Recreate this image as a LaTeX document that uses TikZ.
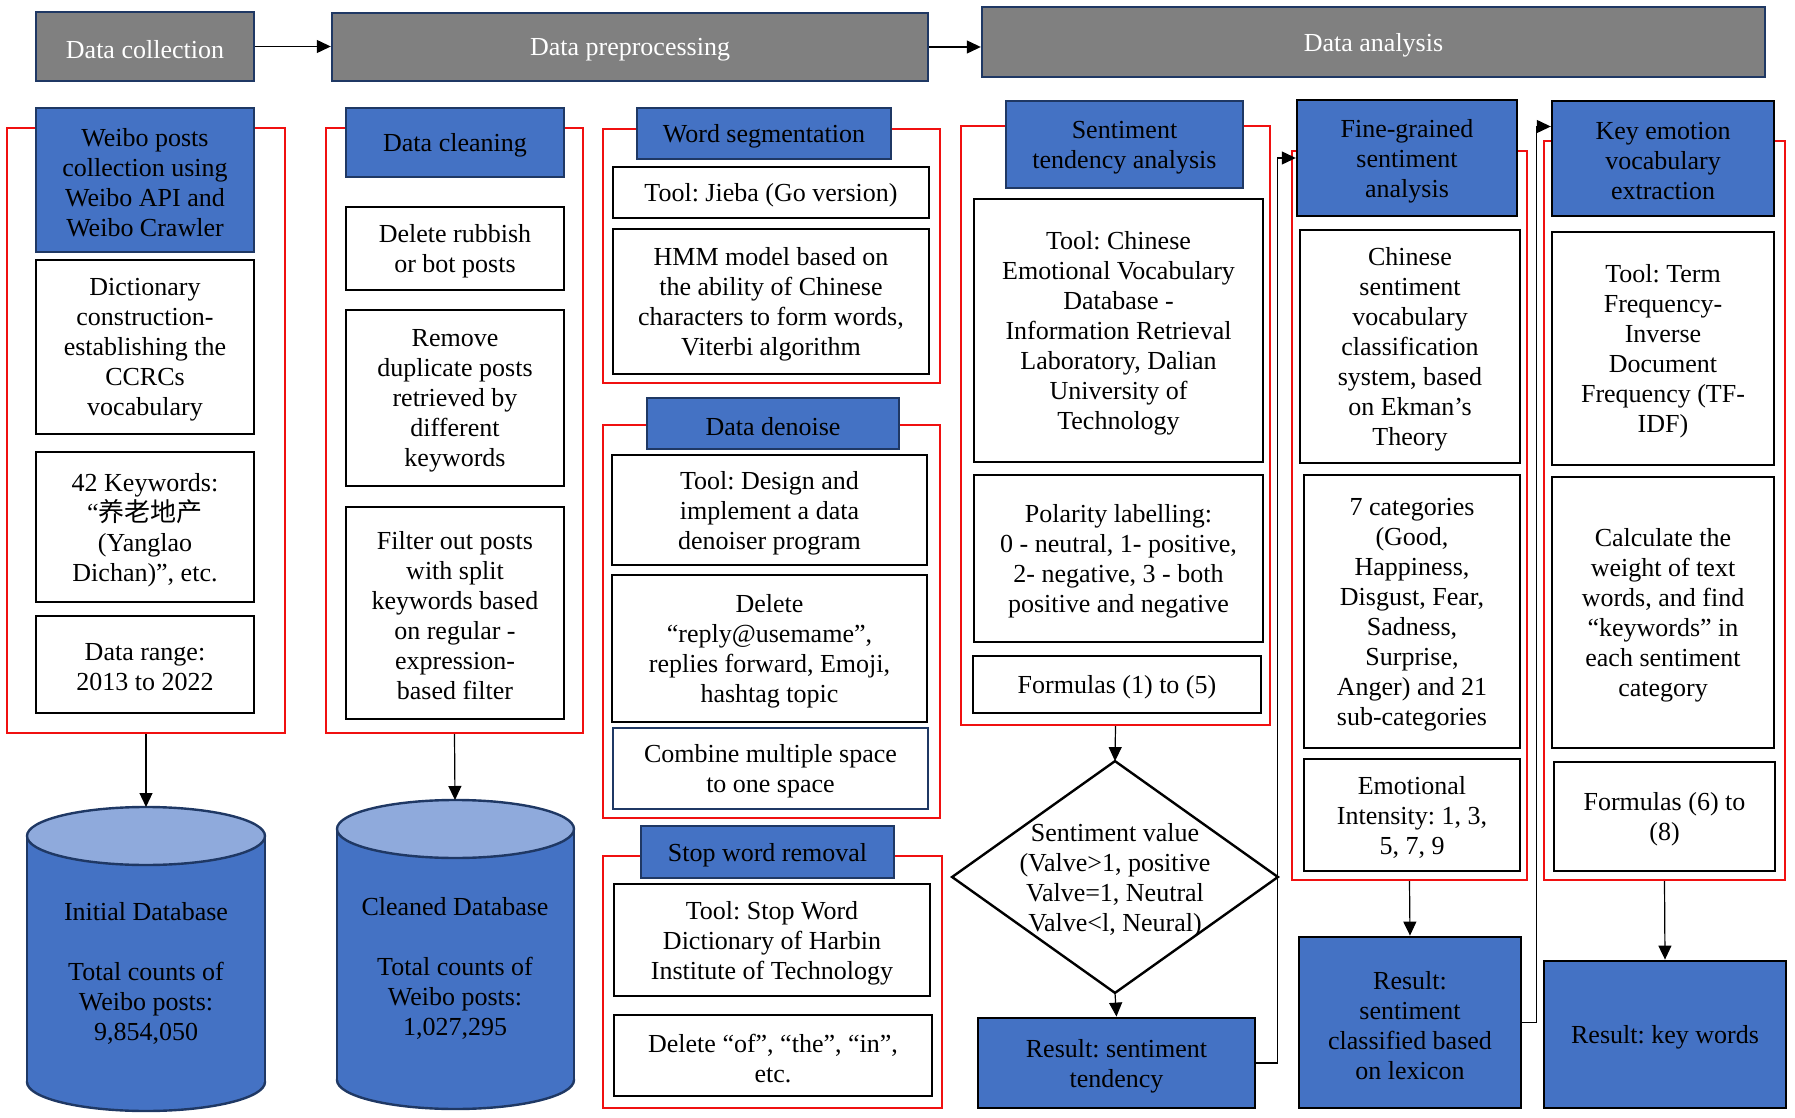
\documentclass[tikz,border=0pt]{standalone}
\usepackage{fontspec}
\setmainfont{Liberation Serif}
\newfontfamily\cjk{Noto Sans CJK SC}
\usepackage{tikz}
\usetikzlibrary{arrows.meta}
\definecolor{boxblue}{HTML}{4472C4}
\definecolor{navy}{HTML}{1F3864}
\definecolor{stagegray}{HTML}{808080}
\definecolor{dbtop}{HTML}{8FAADC}
\definecolor{framered}{HTML}{F01010}
\frenchspacing

\begin{document}
\begin{tikzpicture}[x=0.5pt,y=-0.5pt,
    every node/.style={align=center,inner sep=0pt,font=\fontsize{13}{15}\selectfont,
      execute at begin node={\vbox\bgroup\kern2.8pt\hbox\bgroup},
      execute at end node={\egroup\egroup}},
    stage/.style={draw=navy,fill=stagegray,text=white,line width=1.2pt},
    frame/.style={draw=framered,line width=1.2pt},
    head/.style={draw=navy,fill=boxblue,line width=1.2pt},
    txtbox/.style={draw=black,fill=white,line width=1.4pt},
    result/.style={draw=black,fill=boxblue,line width=1.4pt},
    dbline/.style={draw=navy,line width=1.2pt},
    arr/.style={-{Triangle[length=7pt,width=6.5pt]},line width=0.6pt}]
    \useasboundingbox (0,0) rectangle (1795,1118);
    %
    \node[stage,minimum width=109pt,minimum height=34.5pt] (hcol) at (145,46.5) {Data collection};
    \node[stage,minimum width=298pt,minimum height=34pt] (hpre) at (630,47) {Data preprocessing};
    \node[stage,minimum width=391.5pt,minimum height=35pt] (hana) at (1373.5,42) {Data analysis};
    %
    \node[frame,minimum width=139pt,minimum height=302.5pt] (f1) at (146,430.5) {};
    \node[frame,minimum width=128.5pt,minimum height=302.5pt] (f2) at (454.5,430.5) {};
    \node[frame,minimum width=168.5pt,minimum height=127pt] (f3a) at (771.5,256) {};
    \node[frame,minimum width=168.5pt,minimum height=196.5pt] (f3b) at (771.5,621.5) {};
    \node[frame,minimum width=169.5pt,minimum height=126pt] (f3c) at (772.5,982) {};
    \node[frame,minimum width=154.5pt,minimum height=299.5pt] (f4) at (1115.5,425.5) {};
    \node[frame,minimum width=117.5pt,minimum height=364.5pt] (f5) at (1409.5,515.5) {};
    \node[frame,minimum width=120.5pt,minimum height=369.5pt] (f6) at (1664.5,510.5) {};
    %
    \node[head,minimum width=109pt,minimum height=72pt] (h1) at (145,180) {Weibo posts\\collection using\\Weibo API and\\Weibo Crawler};
    \node[txtbox,minimum width=109pt,minimum height=87pt] (b11) at (145,347) {Dictionary\\construction-\\establishing the\\CCRCs\\vocabulary};
    \node[txtbox,minimum width=109pt,minimum height=75pt] (b12) at (145,527) {42 Keywords:\\“{\cjk 养老地产}\\(Yanglao\\Dichan)”, etc.};
    \node[txtbox,minimum width=109pt,minimum height=48.5pt] (b13) at (145,664.5) {Data range:\\2013 to 2022};
    %
    \node[head,minimum width=109pt,minimum height=34.5pt] (h2) at (455,142.5) {Data cleaning};
    \node[txtbox,minimum width=109pt,minimum height=41.5pt] (b21) at (455,248.5) {Delete rubbish\\or bot posts};
    \node[txtbox,minimum width=109pt,minimum height=88pt] (b22) at (455,398) {Remove\\duplicate posts\\retrieved by\\different\\keywords};
    \node[txtbox,minimum width=109pt,minimum height=106pt] (b23) at (455,613) {Filter out posts\\with split\\keywords based\\on regular -\\expression-\\based filter};
    %
    \node[head,minimum width=127pt,minimum height=25.5pt] (h3a) at (764,133.5) {Word segmentation};
    \node[txtbox,minimum width=158pt,minimum height=25.5pt] (b31) at (771,192.5) {Tool: Jieba (Go version)};
    \node[txtbox,minimum width=158pt,minimum height=72.5pt] (b32) at (771,301.5) {HMM model based on\\the ability of Chinese\\characters to form words,\\Viterbi algorithm};
    \node[head,minimum width=126pt,minimum height=25.5pt] (h3b) at (773,423.5) {Data denoise};
    \node[txtbox,minimum width=157.5pt,minimum height=55pt] (b33) at (769.5,510) {Tool: Design and\\implement a data\\denoiser program};
    \node[txtbox,minimum width=157.5pt,minimum height=73.5pt] (b34) at (769.5,648.5) {Delete\\“reply@usemame”,\\replies forward, Emoji,\\hashtag topic};
    \node[txtbox,draw=navy,minimum width=157.5pt,minimum height=40.5pt] (b35) at (770.5,768.5) {Combine multiple space\\to one space};
    \node[head,minimum width=126.5pt,minimum height=26pt] (h3c) at (767.5,852) {Stop word removal};
    \node[txtbox,minimum width=158pt,minimum height=56pt] (b36) at (772,940) {Tool: Stop Word\\Dictionary of Harbin\\Institute of Technology};
    \node[txtbox,minimum width=159pt,minimum height=40.5pt] (b37) at (773,1055.5) {Delete “of”, “the”, “in”,\\etc.};
    %
    \node[head,minimum width=118.5pt,minimum height=43.5pt] (h4) at (1124.5,144.5) {Sentiment\\tendency analysis};
    \node[txtbox,minimum width=144.5pt,minimum height=131.5pt] (b41) at (1118.5,330.5) {Tool: Chinese\\Emotional Vocabulary\\Database -\\Information Retrieval\\Laboratory, Dalian\\University of\\Technology};
    \node[txtbox,minimum width=144.5pt,minimum height=83.5pt] (b42) at (1118.5,558.5) {Polarity labelling:\\0 - neutral, 1- positive,\\2- negative, 3 - both\\positive and negative};
    \node[txtbox,minimum width=144pt,minimum height=28.5pt] (b43) at (1117,684.5) {Formulas (1) to (5)};
    \node[minimum width=162.5pt,minimum height=115.5pt] (dia) at (1115,877) {Sentiment value\\(Valve>1, positive\\Valve=1, Neutral\\Valve<l, Neural)};
    \draw[line width=1.2pt,line join=miter] (dia.north) -- (dia.east) -- (dia.south) -- (dia.west) -- cycle;
    \node[result,minimum width=138.5pt,minimum height=45pt] (r4) at (1116.5,1063) {Result: sentiment\\tendency};
    %
    \node[head,draw=black,minimum width=110pt,minimum height=58pt] (h5) at (1407,158) {Fine-grained\\sentiment\\analysis};
    \node[txtbox,minimum width=110pt,minimum height=116.5pt] (b51) at (1410,346.5) {Chinese\\sentiment\\vocabulary\\classification\\system, based\\on Ekman’s\\Theory};
    \node[txtbox,minimum width=108pt,minimum height=136.5pt] (b52) at (1412,611.5) {7 categories\\(Good,\\Happiness,\\Disgust, Fear,\\Sadness,\\Surprise,\\Anger) and 21\\sub-categories};
    \node[txtbox,minimum width=108pt,minimum height=56pt] (b53) at (1412,815) {Emotional\\Intensity: 1, 3,\\5, 7, 9};
    \node[result,minimum width=111pt,minimum height=85.5pt] (r5) at (1410,1022.5) {Result:\\sentiment\\classified based\\on lexicon};
    %
    \node[head,draw=black,minimum width=111pt,minimum height=57.5pt] (h6) at (1663,158.5) {Key emotion\\vocabulary\\extraction};
    \node[txtbox,minimum width=111pt,minimum height=116.5pt] (b61) at (1663,348.5) {Tool: Term\\Frequency-\\Inverse\\Document\\Frequency (TF-\\IDF)};
    \node[txtbox,minimum width=111pt,minimum height=135.5pt] (b62) at (1663,612.5) {Calculate the\\weight of text\\words, and find\\“keywords” in\\each sentiment\\category};
    \node[txtbox,minimum width=110.5pt,minimum height=54.5pt] (b63) at (1664.5,816.5) {Formulas (6) to\\(8)};
    \node[result,minimum width=121pt,minimum height=73.5pt] (r6) at (1665,1034.5) {Result: key words};
    %
    % databases
    \draw[dbline,fill=boxblue] (146,1082) ellipse [x radius=119,y radius=29];
    \fill[boxblue] (27,836) rectangle (265,1082);
    \draw[dbline] (27,836) -- (27,1082) (265,836) -- (265,1082);
    \draw[dbline,fill=dbtop] (146,836) ellipse [x radius=119,y radius=29];
    \coordinate (db1top) at (146,807);
    \node (db1) at (146,971) {Initial Database\\[15pt]Total counts of\\Weibo posts:\\9,854,050};
    %
    \draw[dbline,fill=boxblue] (455.5,1080) ellipse [x radius=118.5,y radius=29];
    \fill[boxblue] (337,829) rectangle (574,1080);
    \draw[dbline] (337,829) -- (337,1080) (574,829) -- (574,1080);
    \draw[dbline,fill=dbtop] (455.5,829) ellipse [x radius=118.5,y radius=29];
    \coordinate (db2top) at (455,800);
    \node (db2) at (455,966) {Cleaned Database\\[15pt]Total counts of\\Weibo posts:\\1,027,295};
    %
    \draw[arr] (hcol.east) -- (hcol.east -| hpre.west);
    \draw[arr] (hpre.east) -- (hpre.east -| hana.west);
    \draw[arr] (f1.south) -- (db1top);
    \draw[arr] (f2.south) -- (db2top);
    \draw[arr] (f4.south) -- (dia.north);
    \draw[arr] (dia.south) -- (r4.north);
    \draw[arr] (f5.south) -- (r5.north);
    \draw[arr] (f6.south) -- (r6.north);
    \draw[arr] (r4.east) -- ++(21,0) |- (h5.west);
    \draw[arr] (r5.east) -- ++(14,0) |- ([yshift=16pt]h6.west);
    %
\end{tikzpicture}
\end{document}
